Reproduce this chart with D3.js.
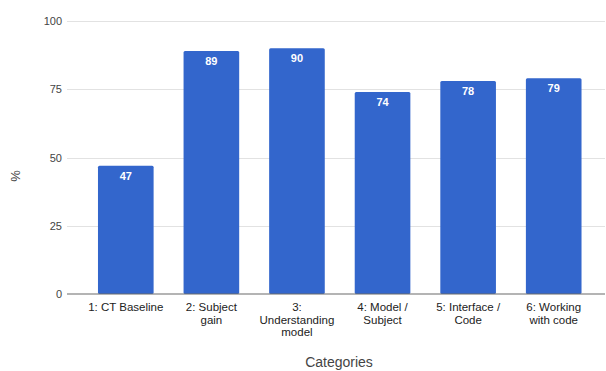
<!DOCTYPE html>
<html>
<head>
<meta charset="utf-8">
<script src="https://cdn.jsdelivr.net/npm/d3@7"></script>
<style>
  html, body { margin: 0; padding: 0; background: #fff; }
  svg { display: block; font-family: "Liberation Sans", Arial, sans-serif; }
</style>
</head>
<body>
<svg id="chart" width="606" height="371"></svg>
<script>
// Category labels (each entry is a list of wrapped lines)
const categories = [
  ["1: CT Baseline"],
  ["2: Subject", "gain"],
  ["3:", "Understanding", "model"],
  ["4: Model /", "Subject"],
  ["5: Interface /", "Code"],
  ["6: Working", "with code"]
];
const values = [47, 89, 90, 74, 78, 79];
const yTicks = [0, 25, 50, 75, 100];
const yTitle = "%";
const xTitle = "Categories";

const svg = d3.select("#chart");
const plot = { left: 67, right: 605, top: 21, bottom: 294 };

const keys = categories.map((c, i) => i);
const x = d3.scaleBand()
  .domain(keys)
  .range([83, 596.5])
  .paddingInner(0.35)
  .paddingOuter(0.175);

const y = d3.scaleLinear().domain([0, 100]).range([plot.bottom, plot.top]);

// Horizontal gridlines
svg.append("g")
  .selectAll("line")
  .data(yTicks.filter(t => t !== 0))
  .join("line")
  .attr("x1", plot.left).attr("x2", plot.right)
  .attr("y1", d => Math.round(y(d)) + 0.5).attr("y2", d => Math.round(y(d)) + 0.5)
  .attr("stroke", "#e2e2e2").attr("stroke-width", 1);

// Y axis tick labels
const yAxis = d3.axisLeft(y).tickValues(yTicks).tickSize(0).tickPadding(0);
const gy = svg.append("g").attr("transform", `translate(${plot.left - 5},0)`).call(yAxis);
gy.select(".domain").remove();
gy.selectAll("text")
  .attr("font-family", "Liberation Sans, Arial, sans-serif")
  .attr("font-size", 11).attr("fill", "#444");

// Bars
svg.append("g")
  .selectAll("rect")
  .data(values)
  .join("rect")
  .attr("x", (d, i) => x(i))
  .attr("width", x.bandwidth())
  .attr("y", d => y(d))
  .attr("height", d => y(0) - y(d))
  .attr("rx", 1.5)
  .attr("fill", "#3366cc");

// Value labels inside bars
svg.append("g")
  .selectAll("text")
  .data(values)
  .join("text")
  .attr("x", (d, i) => x(i) + x.bandwidth() / 2)
  .attr("y", d => y(d) + 14)
  .attr("text-anchor", "middle")
  .attr("font-size", 11)
  .attr("font-weight", "bold")
  .attr("fill", "#ffffff")
  .text(d => d);

// Baseline
svg.append("line")
  .attr("x1", plot.left).attr("x2", plot.right)
  .attr("y1", y(0)).attr("y2", y(0))
  .attr("stroke", "#6b6b6b").attr("stroke-width", 1.2);

// X axis category labels
const xl = svg.append("g")
  .selectAll("text")
  .data(categories)
  .join("text")
  .attr("x", (d, i) => x(i) + x.bandwidth() / 2)
  .attr("y", 311)
  .attr("text-anchor", "middle")
  .attr("font-size", 11.5)
  .attr("fill", "#222");
xl.selectAll("tspan")
  .data(d => d)
  .join("tspan")
  .attr("x", function () { return d3.select(this.parentNode).attr("x"); })
  .attr("dy", (d, i) => i === 0 ? 0 : 12.5)
  .text(d => d);

// Axis titles
svg.append("text")
  .attr("transform", "translate(20,176) rotate(-90)")
  .attr("text-anchor", "middle")
  .attr("font-size", 13)
  .attr("fill", "#444")
  .text(yTitle);

svg.append("text")
  .attr("x", 339).attr("y", 367)
  .attr("text-anchor", "middle")
  .attr("font-size", 14)
  .attr("fill", "#444")
  .text(xTitle);
</script>
</body>
</html>
